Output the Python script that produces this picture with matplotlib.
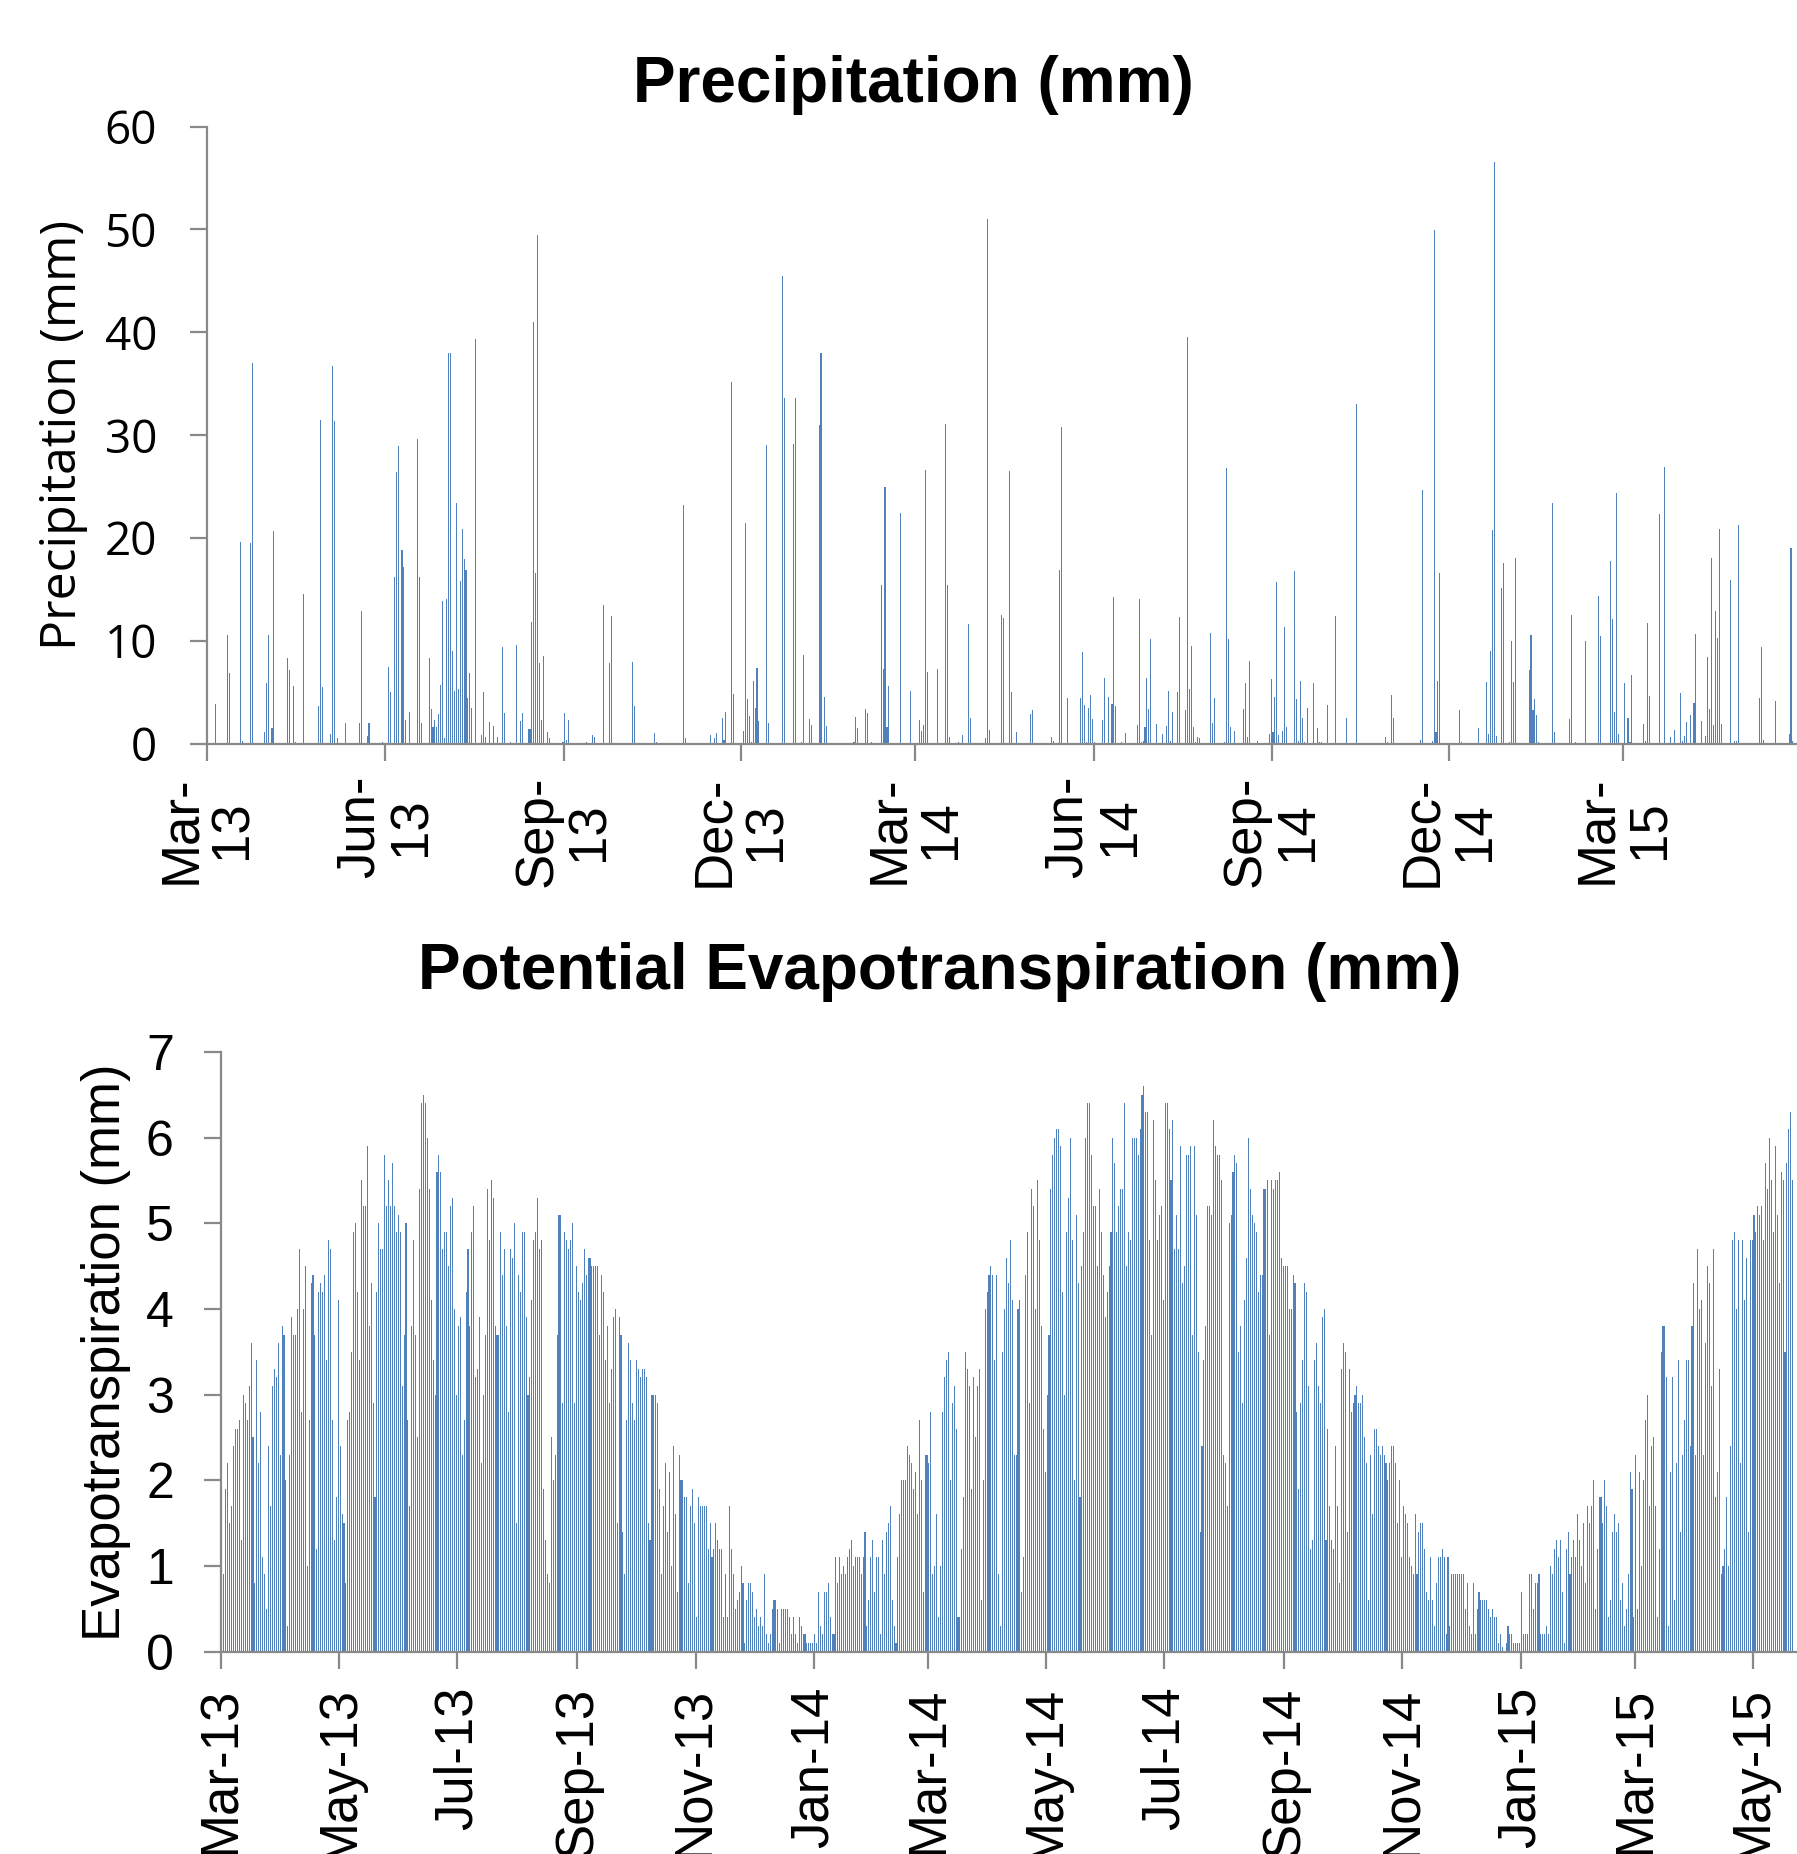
import numpy as np
import pandas as pd
import matplotlib
matplotlib.use("Agg")
import matplotlib.pyplot as plt
import matplotlib.dates as mdates

# ---------------- data ----------------
series_start = "2013-03-01"

# precipitation: day offset from series_start and daily total (mm); other days are 0
precip_day = [4, 10, 11, 17, 18, 22, 23, 29, 30, 31, 33, 34, 41, 42, 44, 45, 49, 57, 58, 59,
              63, 64, 65, 67, 71, 78, 79, 82, 83, 90, 93, 94, 96, 97, 98, 100, 101, 102, 104, 108,
              109, 110, 114, 115, 116, 117, 118, 119, 120, 121, 122, 123, 124, 125, 126, 127, 128, 129, 130, 131,
              132, 133, 134, 135, 136, 138, 141, 142, 143, 145, 147, 149, 152, 153, 156, 159, 161, 162, 165, 166,
              167, 168, 169, 170, 171, 172, 173, 175, 176, 183, 184, 185, 186, 195, 198, 199, 204, 207, 208,
              219, 220, 230, 231, 245, 246, 259, 261, 262, 265, 266, 267, 270, 271, 276, 277, 278, 279, 280, 281,
              282, 283, 284, 288, 289, 296, 297, 302, 303, 306, 307, 310, 311, 315, 316, 318, 319, 333, 334, 335,
              339, 340, 342, 347, 348, 349, 350, 351, 357, 362, 367, 368, 369, 370, 371, 376, 380, 381, 382, 387,
              389, 392, 393, 401, 402, 403, 409, 410, 413, 414, 417,
              424, 425, 435, 436, 439, 440, 443, 450, 451, 452, 453, 454, 455, 456, 457, 461, 462, 464, 466, 467,
              468, 471, 473, 479, 480, 481, 482, 483, 484, 485, 486, 489, 492, 494, 495, 496, 497, 500, 501, 504,
              505, 506, 507, 508, 509, 510, 511, 517, 518, 519, 524, 525, 526, 527, 529, 534, 535, 536, 537, 541,
              547, 548, 549, 550, 551, 552, 554, 555, 556, 560, 561, 562, 563, 564, 565, 567, 570, 572, 573, 574,
              577, 581, 587, 592, 607, 608, 610, 611,
              625, 626, 631, 632, 633, 634, 635, 645, 646, 655, 659, 660, 661, 662, 663, 664, 667, 668, 671, 672,
              673, 674, 681, 682, 683, 684, 685, 686, 693, 694, 702, 703, 705, 706, 710, 717, 718, 722, 723, 724,
              725, 726, 727, 730, 732, 733, 734, 735, 740, 741, 742, 743, 748, 749, 751, 754, 756, 759, 760, 761,
              762, 764, 766, 767, 770, 772, 773, 774, 775, 776, 777, 778, 779, 780, 785, 787, 788, 789, 800, 801,
              802, 808, 815, 816, 817]
precip_mm = [3.9, 10.6, 6.9, 19.6, 0.3, 19.5, 37.0, 1.1, 5.9, 10.6, 1.5, 20.7, 8.3, 7.2, 5.6, 0.2, 14.6, 3.7, 31.5, 5.5,
             0.9, 36.7, 31.4, 0.5, 2.0, 2.0, 12.9, 0.7, 2.0, 0.2, 7.5, 5.0, 16.2, 26.4, 28.9, 18.8, 17.2, 2.3, 3.1, 29.6,
             16.2, 2.0, 8.3, 3.4, 1.6, 2.3, 1.6, 2.9, 5.7, 13.9, 0.5, 14.1, 38.0, 38.0, 9.0, 5.1, 23.4, 5.3, 15.8, 20.9,
             18.0, 16.9, 4.4, 6.9, 3.5, 39.3, 0.8, 5.0, 0.6, 2.1, 1.7, 0.6, 9.4, 3.0, 0.2, 9.6, 2.2, 3.0, 1.4, 1.4,
             11.8, 41.0, 16.6, 49.5, 7.8, 2.3, 8.5, 1.1, 0.5, 0.2, 3.0, 0.4, 2.3, 0.2, 0.8, 0.6, 13.5, 7.8, 12.4,
             7.9, 3.7, 1.0, 0.2, 23.2, 0.5, 0.8, 0.5, 1.0, 2.5, 0.4, 3.1, 35.2, 4.8, 1.2, 21.5, 4.3, 2.7, 0.2, 6.1,
             3.5, 7.4, 2.2, 29.0, 2.0, 45.5, 33.6, 29.1, 33.6, 0.2, 8.6, 2.4, 1.8, 31.0, 38.0, 4.5, 1.7, 0.2, 2.6, 1.5,
             3.4, 3.0, 0.2, 15.4, 7.3, 25.0, 1.6, 5.6, 22.4, 5.1, 2.3, 1.2, 1.8, 26.6, 7.0, 7.3, 31.1, 15.4, 0.6, 0.2,
             0.8, 11.6, 2.5, 0.5, 51.0, 1.3, 12.5, 12.2, 26.5, 5.0, 1.1,
             2.9, 3.3, 0.6, 0.3, 16.9, 30.8, 4.4, 4.4, 8.9, 3.8, 0.2, 3.5, 4.7, 2.4, 0.2, 2.3, 6.4, 4.5, 3.9, 14.3,
             3.7, 0.2, 1.0, 1.8, 14.1, 0.2, 0.3, 1.6, 6.4, 3.4, 10.2, 1.9, 0.9, 1.7, 5.1, 0.3, 3.1, 5.0, 12.3, 3.3,
             39.5, 5.3, 9.5, 1.6, 0.2, 0.6, 0.5, 10.8, 2.0, 4.4, 0.2, 26.8, 10.2, 1.6, 1.2, 3.4, 5.9, 0.6, 8.0, 0.3,
             0.9, 6.3, 1.1, 4.5, 15.7, 0.8, 1.2, 11.3, 1.6, 16.8, 4.3, 0.3, 6.1, 2.5, 0.2, 3.5, 5.9, 1.5, 0.2, 0.2,
             3.8, 12.4, 2.5, 33.0, 0.6, 0.2, 4.7, 2.5,
             0.4, 24.7, 0.3, 49.9, 1.1, 6.1, 16.6, 3.3, 0.2, 1.5, 6.0, 0.9, 9.0, 20.8, 56.6, 0.7, 15.1, 17.6, 0.2, 10.0,
             6.0, 18.1, 7.2, 10.6, 3.3, 4.3, 2.8, 0.2, 23.4, 1.1, 2.4, 12.5, 0.2, 0.1, 10.0, 14.4, 10.5, 0.1, 17.8, 12.1,
             3.1, 24.4, 0.9, 5.9, 2.5, 0.2, 6.7, 0.1, 1.9, 0.3, 11.7, 4.6, 22.3, 0.1, 26.9, 0.6, 1.3, 4.9, 0.3, 0.7,
             2.1, 2.8, 4.0, 10.7, 2.2, 0.7, 8.4, 3.4, 18.1, 1.8, 12.9, 10.3, 20.9, 1.9, 15.9, 0.3, 0.3, 21.3, 4.4, 9.4,
             0.4, 4.1, 0.9, 19.0, 0.3]

# potential evapotranspiration (mm/day), consecutive days from each start date
pet_a_start = "2013-03-02"
pet_a = [0.9, 1.9, 2.2, 1.5, 1.7, 2.4, 2.6, 2.6, 2.7, 1.3,
         3.0, 2.9, 2.7, 3.1, 3.6, 2.5, 0.8, 3.4, 2.2, 2.8,
         1.1, 0.9, 0.5, 2.4, 1.7, 3.1, 3.3, 3.2, 3.6, 2.3,
         3.8, 3.7, 2.0, 0.3, 2.3, 3.9, 3.7, 3.7, 4.0, 4.7,
         2.8, 4.0, 4.5, 1.0, 2.7, 4.3, 4.4, 3.7, 1.2, 4.2,
         4.3, 4.2, 4.4, 3.4, 4.8, 4.7, 2.7, 1.3, 1.8, 4.1,
         2.4, 1.6, 1.5, 0.8, 2.7, 2.8, 3.5, 4.9, 5.0, 4.2,
         3.4, 5.5, 5.2, 5.2, 5.9, 3.8, 4.3, 2.9, 1.8, 4.2,
         5.0, 4.7, 4.7, 5.8, 5.2, 5.5, 5.2, 5.7, 5.2, 4.9,
         5.1, 4.9, 3.1, 3.7, 5.0, 2.7, 1.7, 3.8, 4.8, 3.7,
         2.5, 5.4, 6.4, 6.5, 6.4, 6.0, 5.4, 4.1, 3.4, 3.0,
         5.6, 5.8, 5.6, 4.7, 4.9, 4.9, 4.5, 5.2, 5.3, 4.0,
         3.0, 3.8, 3.9, 2.3, 2.7, 4.2, 4.7, 3.8, 4.9, 5.2,
         3.2, 3.3, 3.9, 2.2, 3.0, 3.7, 5.4, 4.8, 5.5, 5.3,
         3.8, 3.7, 3.7, 4.9, 4.4, 4.7, 3.8, 2.8, 4.7, 4.6,
         5.0, 1.5, 4.4, 4.2, 4.9, 4.9, 3.9, 3.0, 3.2, 4.1,
         4.8, 4.9, 5.3, 4.7, 4.8, 1.9, 1.3, 0.9, 0.8, 2.5,
         2.0, 2.3, 3.7, 5.1, 5.1, 2.9, 4.9, 4.8, 4.7, 4.8,
         5.0, 2.9, 4.5, 4.2, 4.1, 4.3, 4.7, 4.4, 4.6, 4.6,
         4.5, 4.5, 4.5, 4.5, 3.7, 4.4, 4.2, 3.4, 3.8, 2.9,
         3.3, 3.9, 4.0, 1.5, 3.9]
pet_b_start = "2013-09-23"
pet_b = [3.7, 1.4, 0.9, 2.7, 3.6, 3.4, 2.9, 2.7, 3.4, 3.3,
         3.2, 3.3, 3.3, 3.2, 1.5, 1.3, 3.0, 3.0, 3.0, 2.9,
         1.9, 0.9, 1.7, 2.2, 1.4, 2.1, 1.0, 2.4, 1.6, 0.7,
         2.3, 2.0, 2.0, 1.8, 1.8, 0.8, 1.7, 1.9, 1.5, 0.4,
         1.8, 1.7, 1.7, 1.7, 1.7, 1.2, 1.5, 1.1, 1.2, 1.5,
         1.3, 1.2, 1.2, 0.4, 0.9, 0.4, 1.7, 1.2, 0.9, 0.5,
         0.6, 0.7, 1.0, 0.8, 0.1, 0.6, 0.8, 0.8, 0.7, 0.4,
         0.5, 0.3, 0.4, 0.3, 0.9, 0.2, 0.1, 0.2, 0.5, 0.6,
         0.6, 0.5, 0.1, 0.5, 0.5, 0.5, 0.5, 0.4, 0.2, 0.4,
         0.2, 0.1, 0.4, 0.3, 0.2, 0.2, 0.1, 0.1, 0.1, 0.1,
         0.2, 0.1, 0.7, 0.3, 0.2, 0.7, 0.7, 0.8, 0.4, 0.2,
         0.2, 1.1, 0.8, 1.1, 0.9, 1.0, 0.9, 1.1, 1.2, 1.3,
         1.0, 1.1, 1.1, 1.1, 0.9, 1.1, 1.4, 0.3, 0.6, 1.1,
         1.3, 0.7, 1.1, 1.1, 0.2, 1.3, 0.9, 1.4, 1.5, 1.7,
         0.6, 0.3, 0.1, 1.1, 1.6, 2.0, 2.0, 2.0, 2.4, 2.3,
         2.2, 1.9, 2.1, 1.6, 2.7, 2.0, 0.7, 2.3, 2.3, 2.2,
         2.8, 0.9, 1.0, 1.6, 0.4, 1.0, 2.8, 3.2, 3.4, 3.5,
         2.0, 2.9, 3.1, 2.6, 0.4, 0.4, 1.2, 1.8, 3.5, 3.3,
         3.1, 1.9, 3.2, 2.5, 3.1, 3.3, 0.6, 2.0, 4.0, 4.2,
         4.4, 4.5, 4.4, 3.4, 4.4, 0.9, 0.3, 3.5, 4.0, 4.6,
         4.3, 4.8, 4.1, 2.3, 2.3, 4.0, 4.1]
pet_c_start = "2014-04-18"
pet_c = [0.7, 1.1, 4.4, 4.9, 2.9, 5.4, 5.2, 4.0, 5.5, 4.8,
         3.8, 2.6, 2.1, 3.0, 3.7, 5.4, 5.8, 6.0, 6.1, 6.1,
         5.9, 4.2, 3.0, 4.9, 5.3, 6.0, 4.8, 2.0, 5.1, 4.3,
         1.8, 4.5, 4.9, 6.0, 6.4, 6.4, 5.8, 5.2, 5.2, 4.5,
         5.4, 4.9, 4.4, 3.9, 4.2, 4.5, 4.9, 6.0, 5.7, 4.9,
         5.2, 5.4, 5.4, 6.4, 4.5, 4.9, 4.8, 6.0, 6.0, 6.0,
         5.8, 6.1, 6.5, 6.6, 6.3, 6.3, 4.8, 3.7, 6.2, 5.5,
         4.8, 5.1, 5.2, 4.1, 6.4, 6.4, 6.1, 5.5, 6.2, 4.7,
         5.1, 4.7, 5.9, 4.3, 4.5, 5.8, 5.8, 5.9, 3.7, 5.9,
         5.1, 3.5, 1.4, 2.4, 3.4, 3.8, 5.2, 5.2, 5.1, 6.2,
         5.9, 5.8, 5.8, 5.5, 2.3, 2.2, 1.7, 5.0, 5.1, 5.6,
         5.8, 5.7, 3.5, 3.8, 2.9, 4.1, 4.6, 6.0, 5.4, 5.1,
         5.0, 4.9, 4.2, 4.4, 4.4, 5.4, 5.4, 5.5, 3.7, 5.5,
         5.4, 5.5, 5.5, 5.6, 4.6, 4.5, 4.5, 4.5, 4.0, 4.0,
         4.4, 4.3, 2.8, 1.9, 2.9, 3.4, 4.3, 4.2, 3.1, 1.2,
         1.3, 3.4, 3.6, 3.1, 2.9, 3.9, 4.0, 1.3, 2.6, 1.7,
         1.3, 1.2, 2.4, 1.7, 0.8, 3.3, 3.6, 3.5, 1.4, 3.3,
         2.8, 2.9, 3.0, 3.1, 2.9, 2.9, 3.0, 2.5, 2.2, 0.6,
         2.3, 1.6, 2.6, 2.6, 2.4, 2.3, 2.4, 2.3, 2.2, 2.0,
         2.2, 2.4, 2.4, 2.2, 1.5, 2.0, 1.1, 1.7, 1.6, 1.5,
         1.1, 1.0, 0.9, 1.6, 0.9, 1.4]
pet_d_start = "2014-11-10"
pet_d = [1.5, 1.5, 1.2, 0.7, 0.6, 1.1, 0.6, 0.3, 0.8, 1.1,
         1.1, 1.2, 1.1, 0.2, 1.1, 0.3, 0.9, 0.9, 0.9, 0.9,
         0.9, 0.9, 0.9, 0.5, 0.8, 0.3, 0.2, 0.8, 0.2, 0.5,
         0.7, 0.6, 0.6, 0.6, 0.6, 0.5, 0.4, 0.5, 0.4, 0.4,
         0.1, 0.2, 0.05, 0.0, 0.1, 0.3, 0.2, 0.2, 0.1, 0.1,
         0.1, 0.1, 0.7, 0.2, 0.2, 0.2, 0.9, 0.9, 0.5, 0.8,
         0.8, 0.9, 0.2, 0.2, 0.2, 0.3, 0.2, 1.0, 0.9, 1.2,
         1.3, 1.1, 1.3, 0.7, 0.1, 1.2, 1.4, 0.9, 1.1, 1.3,
         1.1, 1.6, 1.3, 1.0, 1.5, 0.8, 1.7, 1.5, 1.7, 2.0,
         0.5, 1.2, 1.8, 1.8, 1.5, 2.0, 1.7, 0.4, 0.6, 1.4,
         1.6, 1.4, 1.5, 0.6, 0.8, 0.3, 0.5, 0.9, 2.1, 1.9,
         0.4, 2.3, 0.5, 2.1, 1.0, 2.0, 2.7, 3.0, 1.7, 2.4,
         2.5, 1.7, 0.4, 1.2, 3.5, 3.8, 3.8, 3.2, 0.3, 2.1,
         3.2, 0.6, 2.2, 3.4, 1.4, 2.3, 2.7, 3.4, 3.4, 2.4,
         3.8, 4.3, 2.3, 4.7, 4.0, 4.1, 2.3, 3.6, 4.5, 4.3,
         3.1, 4.7, 1.8, 2.1, 3.3, 0.9, 1.0, 1.2, 1.8, 1.0,
         2.4, 4.8, 4.9, 4.0, 4.8, 2.2, 4.8, 4.1, 4.6, 1.4,
         4.8, 4.8, 5.1, 4.9, 5.2, 5.1, 5.2, 4.8, 5.7, 5.4,
         6.0, 5.5, 4.9, 5.9, 5.1, 4.3, 5.6, 5.5, 3.5, 5.7,
         6.1, 6.3, 5.5]

precip_yticks = [0, 10, 20, 30, 40, 50, 60]
pet_yticks = [0, 1, 2, 3, 4, 5, 6, 7]
precip_tick_dates = pd.date_range("2013-03-01", "2015-03-01", freq="3MS")
pet_tick_dates = pd.date_range("2013-03-01", "2015-05-01", freq="2MS")
precip_end_days = 819.6
pet_end_days = 813.7

# ---------------- style ----------------
BLUE = "#4F81BD"
GREY = "#898989"
SANS = ["Liberation Sans", "DejaVu Sans"]
OPEN = ["Open Sans", "DejaVu Sans"]
plt.rcParams["font.family"] = SANS

fig = plt.figure(figsize=(17.97, 18.54), dpi=100)
fig.patch.set_facecolor("white")

ax1 = fig.add_axes([0.1152, 0.5989, 0.8848, 0.3328])
ax2 = fig.add_axes([0.1230, 0.1092, 0.8770, 0.3234])

t0 = mdates.date2num(pd.Timestamp(series_start))


def seg_x(start, n):
    return mdates.date2num(pd.date_range(start, periods=n, freq="D")) + 0.5


# precipitation bars
px = t0 + np.asarray(precip_day, dtype=float) + 0.5
ax1.bar(px, precip_mm, width=0.55, color=BLUE, linewidth=0)

# PET bars
for st, vals in [(pet_a_start, pet_a), (pet_b_start, pet_b),
                 (pet_c_start, pet_c), (pet_d_start, pet_d)]:
    ax2.bar(seg_x(st, len(vals)), vals, width=0.55, color=BLUE, linewidth=0)

for ax in (ax1, ax2):
    for s in ("top", "right"):
        ax.spines[s].set_visible(False)
    for s in ("left", "bottom"):
        ax.spines[s].set_color(GREY)
        ax.spines[s].set_linewidth(1.6)
    ax.set_facecolor("white")
    ax.tick_params(axis="both", direction="out", color=GREY, width=1.6, length=12)

# top axis
ax1.set_xlim(t0, t0 + precip_end_days)
ax1.set_ylim(0, 60)
ax1.set_yticks(precip_yticks)
ax1.set_yticklabels([str(v) for v in precip_yticks], fontsize=33, family=OPEN)
ax1.tick_params(axis="y", pad=24)
ax1.set_xticks(mdates.date2num(precip_tick_dates))
ax1.set_xticklabels([d.strftime("%b-\n%y") for d in precip_tick_dates],
                    rotation=90, fontsize=38, family=SANS, ha="center", va="top",
                    multialignment="center", linespacing=1.05)
ax1.tick_params(axis="x", pad=11)

# bottom axis
ax2.set_xlim(t0, t0 + pet_end_days)
ax2.set_ylim(0, 7)
ax2.set_yticks(pet_yticks)
ax2.set_yticklabels([str(v) for v in pet_yticks], fontsize=36, family=SANS)
ax2.tick_params(axis="y", pad=22)
ax2.set_xticks(mdates.date2num(pet_tick_dates))
ax2.set_xticklabels([d.strftime("%b-%y") for d in pet_tick_dates],
                    rotation=90, fontsize=38, family=SANS, ha="center", va="top")
ax2.tick_params(axis="x", pad=13)

# titles and axis labels
fig.text(0.508, 0.954, "Precipitation (mm)", ha="center", va="center",
         fontsize=46, fontweight="bold", family=SANS)
fig.text(0.523, 0.4757, "Potential Evapotranspiration (mm)", ha="center", va="center",
         fontsize=46, fontweight="bold", family=SANS)
fig.text(0.035, 0.5989 + 0.3328 / 2, "Precipitation (mm)", rotation=90,
         ha="center", va="center", fontsize=36, family=OPEN)
fig.text(0.059, 0.1092 + 0.3234 / 2, "Evapotranspiration (mm)", rotation=90,
         ha="center", va="center", fontsize=38, family=SANS)

fig.savefig("out.png", dpi=100, facecolor="white")
